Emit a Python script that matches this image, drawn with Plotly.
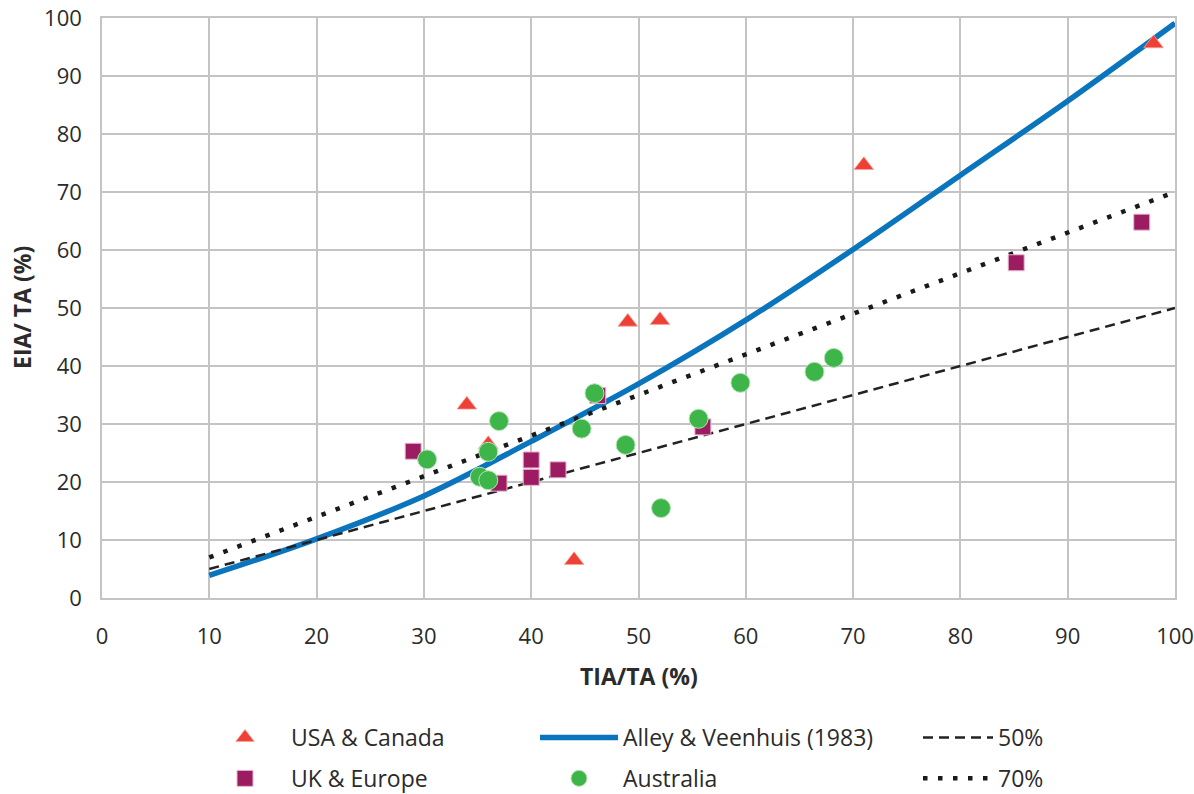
import plotly.graph_objects as go

# Observed catchment points: TIA/TA (%) vs EIA/TA (%)
usa_tia = [98, 71, 49, 52, 34, 36, 44]
usa_eia = [95.6, 74.6, 47.6, 47.9, 33.3, 26.5, 6.5]

uk_tia = [29, 37, 40, 40, 42.5, 46.2, 56, 85.2, 96.9]
uk_eia = [25.3, 19.8, 23.8, 20.8, 22.1, 34.9, 29.5, 57.8, 64.8]

aus_tia = [30.3, 37, 36, 35.2, 36, 45.9, 44.7, 48.8, 52.1, 55.6, 59.5, 66.4, 68.2]
aus_eia = [23.9, 30.5, 25.2, 20.9, 20.3, 35.3, 29.2, 26.4, 15.5, 30.9, 37.1, 39.0, 41.4]

# Alley & Veenhuis (1983) relationship, read at 10 % steps
av_tia = [10, 20, 30, 40, 50, 60, 70, 80, 90, 100]
av_eia = [3.9, 10.2, 17.6, 27.0, 36.9, 47.9, 60.1, 72.9, 85.7, 99.1]

# Reference ratios
r50_tia = [10, 100]
r50_eia = [5, 50]
r70_tia = [10, 100]
r70_eia = [7, 70]

axis_ticks = [0, 10, 20, 30, 40, 50, 60, 70, 80, 90, 100]

FONT = "Open Sans"
GRID = "#c4c4c4"
TEXT = "#2b2b2b"

fig = go.Figure()

fig.add_trace(go.Scatter(
    x=av_tia, y=av_eia, mode="lines", name="Alley & Veenhuis (1983)",
    line=dict(color="#0a75bc", width=5.5, shape="spline"),
    legend="legend2", legendgroup="av"))
fig.add_trace(go.Scatter(
    x=r50_tia, y=r50_eia, mode="lines", name="50%",
    line=dict(color="#222222", width=2.5, dash="10px,6px"),
    legend="legend3", legendgroup="r50"))
fig.add_trace(go.Scatter(
    x=r70_tia, y=r70_eia, mode="lines", name="70%",
    line=dict(color="#1a1a1a", width=4.5, dash="4.5px,10.5px"),
    legend="legend3", legendgroup="r70"))

fig.add_trace(go.Scatter(
    x=usa_tia, y=usa_eia, mode="markers", name="USA & Canada",
    marker=dict(symbol="triangle-up", size=17, color="#ee4035",
                line=dict(color="#f7a39c", width=0.8)),
    legend="legend", legendgroup="usa"))
fig.add_trace(go.Scatter(
    x=uk_tia, y=uk_eia, mode="markers", name="UK & Europe",
    marker=dict(symbol="square", size=16, color="#9c1c62",
                line=dict(color="#e6b8cf", width=1)),
    legend="legend", legendgroup="uk"))
fig.add_trace(go.Scatter(
    x=aus_tia, y=aus_eia, mode="markers", name="Australia",
    marker=dict(symbol="circle", size=19, color="#3db549",
                line=dict(color="#b6e3b9", width=1)),
    legend="legend2", legendgroup="aus"))

axis_common = dict(
    range=[0, 100], tickvals=axis_ticks, showgrid=True, gridcolor=GRID,
    gridwidth=1.5, zeroline=False, showline=True, linecolor=GRID,
    linewidth=1.5, mirror=True, ticks="", automargin=False,
    tickfont=dict(family=FONT, size=22, color=TEXT),
)

legend_common = dict(
    orientation="v", xref="container", yref="container",
    yanchor="top", xanchor="left", tracegroupgap=8,
    font=dict(family=FONT, size=23, color=TEXT),
    bgcolor="rgba(0,0,0,0)",
)

LEG_TOP = (794 - 716) / 794

fig.update_layout(
    width=1194, height=794,
    margin=dict(l=102, r=19, t=18, b=196, autoexpand=False),
    paper_bgcolor="white", plot_bgcolor="white",
    xaxis=dict(axis_common, ticklabelstandoff=18),
    yaxis=dict(axis_common, ticklabelstandoff=14),
    legend=dict(legend_common, x=199 / 1194, y=LEG_TOP, itemwidth=82),
    legend2=dict(legend_common, x=535 / 1194, y=LEG_TOP, itemwidth=78),
    legend3=dict(legend_common, x=918 / 1194, y=LEG_TOP, itemwidth=70),
    showlegend=True,
    annotations=[
        dict(text="<b>TIA/TA (%)</b>", xref="paper", yref="paper",
             x=0.5, y=-78 / 580, xanchor="center", yanchor="middle",
             showarrow=False, font=dict(family=FONT, size=23, color=TEXT)),
        dict(text="<b>EIA/ TA (%)</b>", xref="paper", yref="paper",
             x=-80 / 1073, y=0.5, xanchor="center", yanchor="middle",
             textangle=-90, showarrow=False,
             font=dict(family=FONT, size=23, color=TEXT)),
    ],
)

fig.write_html("out.html")
